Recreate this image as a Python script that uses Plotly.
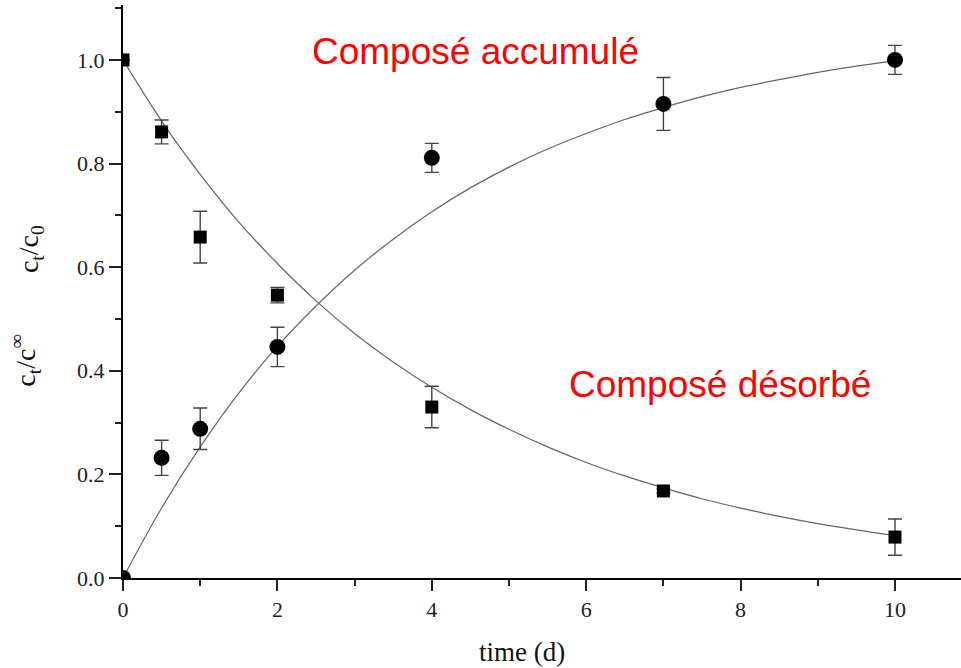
import plotly.graph_objects as go

# Measured data
t_points = [0, 0.5, 1, 2, 4, 7, 10]
desorbed = [1.0, 0.861, 0.658, 0.546, 0.330, 0.168, 0.079]
desorbed_err = [0.0, 0.023, 0.050, 0.015, 0.040, 0.004, 0.035]
accumulated = [0.0, 0.232, 0.288, 0.446, 0.811, 0.915, 1.0]
accumulated_err = [0.0, 0.034, 0.040, 0.038, 0.028, 0.051, 0.028]

# Fitted curves
t_fit = [0, 0.5, 1, 1.5, 2, 2.5, 3, 3.5, 4, 4.5, 5, 5.5, 6, 6.5, 7, 7.5, 8, 8.5, 9, 9.5, 10]
desorbed_fit = [1.0, 0.882, 0.779, 0.687, 0.607, 0.535, 0.472, 0.417, 0.368, 0.325, 0.287,
                0.253, 0.223, 0.197, 0.174, 0.153, 0.135, 0.119, 0.105, 0.093, 0.082]
accumulated_fit = [0.0, 0.135, 0.253, 0.357, 0.447, 0.525, 0.594, 0.654, 0.707, 0.753, 0.793,
                   0.828, 0.858, 0.885, 0.908, 0.929, 0.947, 0.962, 0.976, 0.988, 0.998]

x_ticks = [0, 2, 4, 6, 8, 10]
y_ticks = [0.0, 0.2, 0.4, 0.6, 0.8, 1.0]

fig = go.Figure()
fit_line = dict(color="#666666", width=1.2, shape="spline")
fig.add_trace(go.Scatter(x=t_fit, y=desorbed_fit, mode="lines", line=fit_line, hoverinfo="skip"))
fig.add_trace(go.Scatter(x=t_fit, y=accumulated_fit, mode="lines", line=fit_line, hoverinfo="skip"))

err_style = dict(type="data", thickness=1.4, width=7, color="#444444")
fig.add_trace(go.Scatter(
    x=t_points, y=desorbed, mode="markers",
    marker=dict(symbol="square", size=13, color="black"),
    error_y=dict(array=desorbed_err, **err_style)))
fig.add_trace(go.Scatter(
    x=t_points, y=accumulated, mode="markers",
    marker=dict(symbol="circle", size=16, color="black"),
    error_y=dict(array=accumulated_err, **err_style)))

serif = "Liberation Serif, Times New Roman, serif"
sans = "Liberation Sans, Arial, sans-serif"

fig.update_layout(
    width=961, height=668,
    margin=dict(l=123, r=0, t=5, b=90),
    plot_bgcolor="white", paper_bgcolor="white",
    showlegend=False,
    xaxis=dict(range=[0, 10.855], tickvals=x_ticks, ticktext=[str(v) for v in x_ticks],
               showgrid=False, zeroline=False, showline=True, linecolor="black", linewidth=2,
               ticks="outside", ticklen=11, tickwidth=2, tickcolor="#222",
               minor=dict(dtick=1, tick0=0, ticks="outside", ticklen=6, tickwidth=2, tickcolor="#222"),
               tickfont=dict(family=serif, size=22, color="#222")),
    yaxis=dict(range=[0, 1.106], tickvals=y_ticks, ticktext=[f"{v:.1f}" for v in y_ticks],
               showgrid=False, zeroline=False, showline=True, linecolor="black", linewidth=2,
               ticks="outside", ticklen=12, tickwidth=2, tickcolor="#222",
               minor=dict(dtick=0.1, tick0=0, ticks="outside", ticklen=6, tickwidth=2, tickcolor="#222"),
               tickfont=dict(family=serif, size=22, color="#222")),
)

ann = dict(xref="paper", yref="paper", showarrow=False, xanchor="center", yanchor="middle")
fig.add_annotation(x=0.476, y=-0.129, text="time (d)",
                   font=dict(family=serif, size=27, color="#111"), **ann)
fig.add_annotation(x=0.421, y=0.918, text="Composé accumulé",
                   font=dict(family=sans, size=37, color="#ff0000"), **ann)
fig.add_annotation(x=0.712, y=0.337, text="Composé désorbé",
                   font=dict(family=sans, size=37, color="#ff0000"), **ann)
fig.add_annotation(x=-0.111, y=0.574, text="c<sub>t</sub>/c<sub>0</sub>", textangle=-90,
                   font=dict(family=serif, size=28, color="#111"), **ann)
fig.add_annotation(x=-0.116, y=0.379, text="c<sub>t</sub>/c<sup>∞</sup>", textangle=-90,
                   font=dict(family=serif, size=28, color="#111"), **ann)

fig.write_html("out.html", config={"displayModeBar": False},
               post_script="document.body.style.margin='0';")
